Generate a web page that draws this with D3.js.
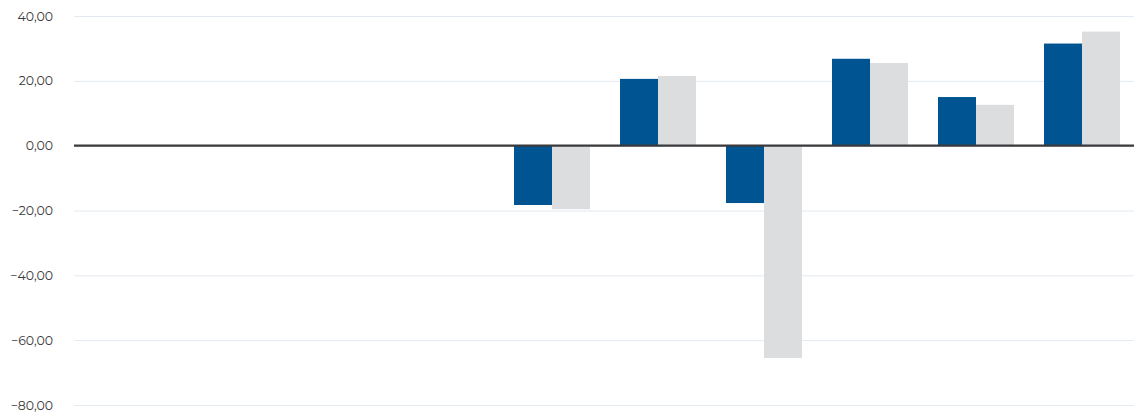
<!DOCTYPE html>
<html>
<head>
<meta charset="utf-8">
<script src="https://cdn.jsdelivr.net/npm/d3@7"></script>
<style>
  html, body { margin: 0; padding: 0; background: #fff; }
  #chart { width: 1138px; height: 412px; }
  .tick text { font-family: Montserrat, "Open Sans", sans-serif; font-size: 12.5px; fill: #3a3a3a; }
</style>
</head>
<body>
<div id="chart"></div>
<script>
// categories along x (not labelled in the chart)
const categories = ["1", "2", "3", "4", "5", "6", "7", "8", "9", "10"];
const seriesNames = ["serie1", "serie2"];
const serie1 = [null, null, null, null, -18.3, 20.6, -17.7, 26.8, 15.0, 31.5];
const serie2 = [null, null, null, null, -19.6, 21.5, -65.5, 25.5, 12.6, 35.2];
const yTicks = [-80, -60, -40, -20, 0, 20, 40];
const colors = ["#005492", "#dcdddf"];

let w = 1138, h = 412;
let margin = {top: 16, right: 4, bottom: 7, left: 74};

var svg = d3.select("#chart").append("svg")
  .attr("width", w)
  .attr("height", h);

var x0 = d3.scaleBand().domain(categories).range([margin.left + 1, w - margin.right + 1]);
var x1 = d3.scaleBand().domain(seriesNames).range([0, x0.bandwidth()]).paddingOuter(0.395);
var y = d3.scaleLinear().domain([-80, 40]).range([h - margin.bottom, margin.top]);

var fmt = d => d3.format(".2f")(d).replace(".", ",");

// grid + labels
var yAxis = svg.append("g")
  .attr("transform", "translate(" + margin.left + ",0)")
  .call(d3.axisLeft(y).tickValues(yTicks).tickFormat(fmt)
    .tickSize(-(w - margin.left - margin.right)).tickPadding(21));
yAxis.select(".domain").remove();
yAxis.selectAll(".tick line").attr("stroke", "#e3e9f0").attr("stroke-width", 1);

var rows = categories.map((c, i) => ({cat: c, vals: [serie1[i], serie2[i]]}));

var groups = svg.append("g").selectAll("g")
  .data(rows).enter().append("g")
  .attr("transform", d => "translate(" + x0(d.cat) + ",0)");

groups.selectAll("rect")
  .data(d => d.vals.map((v, j) => ({key: seriesNames[j], v: v, j: j})).filter(e => e.v !== null))
  .enter().append("rect")
  .attr("x", d => x1(d.key))
  .attr("width", x1.bandwidth())
  .attr("y", d => y(Math.max(0, d.v)))
  .attr("height", d => Math.abs(y(d.v) - y(0)))
  .attr("fill", d => colors[d.j]);

// zero line
svg.append("line")
  .attr("x1", margin.left).attr("x2", w - margin.right)
  .attr("y1", y(0)).attr("y2", y(0))
  .attr("stroke", "#3a3a3d").attr("stroke-width", 2.2);
</script>
</body>
</html>
